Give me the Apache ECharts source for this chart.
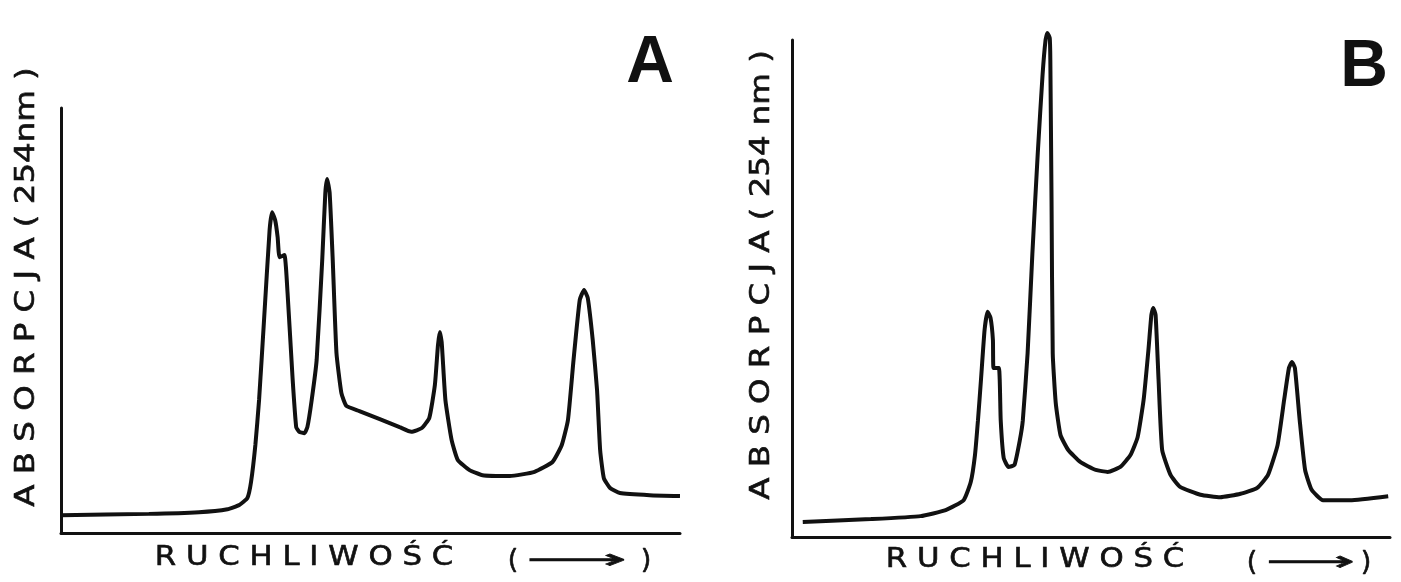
<!DOCTYPE html>
<html>
<head>
<meta charset="utf-8">
<script src="https://cdn.jsdelivr.net/npm/echarts@6/dist/echarts.min.js"></script>
<style>
html,body{margin:0;padding:0;background:#fff;}
#chart{width:1401px;height:582px;}
</style>
</head>
<body>
<div id="chart"></div>
<script>
// Panel A: mobility (relative units) and absorbance at 254 nm (relative units)
const mobilityA = [0,14.2,22.3,26.9,28.8,30.1,30.7,31.4,32.0,32.8,33.7,34.1,34.6,35.0,35.3,36.1,36.6,37.4,38.0,38.5,39.3,39.8,40.5,41.3,42.2,42.7,43.0,43.4,43.9,44.5,45.3,46.1,48.2,51.5,54.7,56.6,58.3,59.5,60.4,60.9,61.2,61.5,62.1,63.1,64.1,66.0,68.1,72.5,76.5,79.4,80.9,81.9,82.8,83.8,84.5,85.1,85.9,86.6,87.1,87.7,88.7,90.3,95.1,100];
const absorbA   = [4.2,4.5,4.9,5.6,6.6,8.2,12.0,20.7,31.3,50.1,71.3,75.5,73.6,69.6,64.9,65.4,56.5,36.7,24.9,23.8,23.5,24.9,31.3,40.7,64.2,80.0,83.3,80.0,64.2,42.4,32.9,29.9,28.7,26.8,24.9,23.8,24.7,27.1,34.8,44.2,47.3,44.9,31.3,21.9,17.2,14.8,13.6,13.4,14.4,16.7,20.7,26.6,40.7,54.8,57.2,55.3,45.4,33.6,19.5,12.9,10.6,9.4,8.9,8.7];

// Panel B
const mobilityB = [1.8,13.2,21.5,25.7,28.7,29.9,30.6,31.1,31.6,32.2,32.7,33.2,33.6,33.7,34.6,34.9,35.4,36.2,37.2,38.1,38.6,39.4,40.2,41.1,41.9,42.4,42.7,43.1,43.2,43.4,43.6,44.1,44.9,46.2,48.2,50.8,52.8,54.9,56.6,57.8,58.8,59.6,60.1,60.4,60.8,61.3,61.9,63.3,64.9,68.3,71.6,75.0,77.8,79.6,81.2,82.3,83.1,83.6,84.1,84.9,85.8,86.9,88.8,93.3,99.7];
const absorbB   = [3.0,3.6,4.2,5.4,7.4,11.1,16.5,23.5,31.6,41.6,45.3,44.1,39.6,34.0,34.0,23.5,15.9,14.1,14.5,19.5,23.5,37.0,57.1,77.3,93.0,100.0,101.4,100.4,96.0,67.8,37.0,27.0,20.5,17.5,15.1,13.5,13.1,14.1,16.5,20.1,27.6,37.6,44.7,46.1,44.7,31.6,17.5,12.5,10.1,8.5,8.0,8.7,9.9,12.5,18.5,27.6,34.0,35.2,34.0,23.5,13.5,9.5,7.4,7.4,8.2];

const panelLabels = ['A','B'];
const yTitles = ['A B S O R P C J A ( 254nm )','A B S O R P C J A ( 254 nm )'];
const xTitle = 'R U C H L I W O Ś Ć';

const pairsA = mobilityA.map((x,i)=>[x,absorbA[i]]);
const pairsB = mobilityB.map((x,i)=>[x,absorbB[i]]);

const FONT = 'DejaVu Sans';
const INK = '#111';

function xAx(gi){
  return {type:'value',gridIndex:gi,min:0,max:100,
    axisLine:{show:true,onZero:false,lineStyle:{color:INK,width:3}},
    axisTick:{show:false},axisLabel:{show:false},splitLine:{show:false}};
}
function yAx(gi){
  return {type:'value',gridIndex:gi,min:0,max:100,
    axisLine:{show:true,lineStyle:{color:INK,width:3}},
    axisTick:{show:false},axisLabel:{show:false},splitLine:{show:false}};
}
function txt(text,x,y,opts){
  return Object.assign({type:'text',x:x,y:y,silent:true,
    style:Object.assign({text:text,fill:INK,stroke:INK,lineWidth:0.6,font:'27px "'+FONT+'"',align:'center',verticalAlign:'middle'},opts&&opts.style||{})},
    opts&&opts.extra||{});
}

const chart = echarts.init(document.getElementById('chart'),null,{renderer:'canvas'});
chart.setOption({
  animation:false,
  backgroundColor:'#fff',
  grid:[
    {left:61,top:108,width:619,height:425},
    {left:792,top:40,width:598,height:497}
  ],
  xAxis:[xAx(0),xAx(1)],
  yAxis:[yAx(0),yAx(1)],
  series:[
    {type:'line',xAxisIndex:0,yAxisIndex:0,data:pairsA,showSymbol:false,smooth:0.15,clip:false,
     lineStyle:{color:INK,width:4}},
    {type:'line',xAxisIndex:1,yAxisIndex:1,data:pairsB,showSymbol:false,smooth:0.15,clip:false,
     lineStyle:{color:INK,width:4}}
  ],
  graphic:[
    txt(panelLabels[0],650,64,{style:{font:'bold 66px "Liberation Sans"',lineWidth:0}}),
    txt(panelLabels[1],1364,68,{style:{font:'bold 66px "Liberation Sans"',lineWidth:0}}),
    txt(yTitles[0],27,287,{extra:{rotation:Math.PI/2,scaleX:1.2}}),
    txt(yTitles[1],762,275,{extra:{rotation:Math.PI/2,scaleX:1.2}}),
    txt(xTitle,304,558,{extra:{scaleX:1.14}}),
    txt(xTitle,1035,560,{extra:{scaleX:1.14}}),
    txt('(',513,561),
    txt('⟶',577,561,{extra:{scaleX:2.6}}),
    txt(')',646,561),
    txt('(',1252,563),
    txt('⟶',1311,563,{extra:{scaleX:2.3}}),
    txt(')',1366,563)
  ]
});
</script>
</body>
</html>
